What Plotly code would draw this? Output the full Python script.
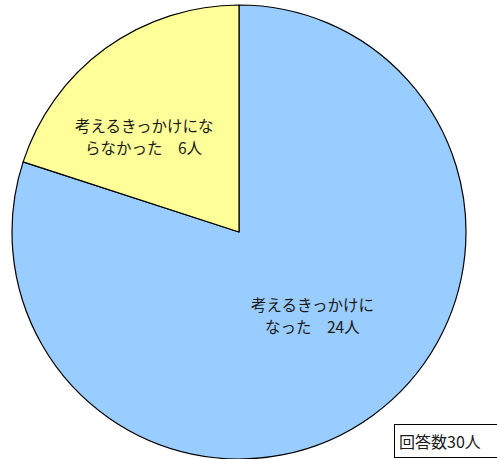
import plotly.graph_objects as go

categories = ["考えるきっかけに<br>なった", "考えるきっかけにな<br>らなかった"]
values = [24, 6]
colors = ["#99CCFF", "#FFFF99"]
total_label = "回答数"
unit = "人"

W, H = 497, 459

fig = go.Figure(go.Pie(
    labels=categories,
    values=values,
    sort=False,
    direction="clockwise",
    rotation=0,
    marker=dict(colors=colors, line=dict(color="#000000", width=1.2)),
    textinfo="none",
    hoverinfo="label+value",
    domain=dict(x=[11 / W, 467 / W], y=[0.0, 1 - 5 / H]),
    showlegend=False,
))

font = dict(family="Noto Sans CJK JP, sans-serif", size=15.5, color="#1a1a1a")
label_pos = [(312, 315), (144, 136)]
line_gap = 22
annotations = []
for cat, val, (px, py) in zip(categories, values, label_pos):
    lines = f"{cat}　{val}{unit}".split("<br>")
    n = len(lines)
    for i, ln in enumerate(lines):
        ly = py + (i - (n - 1) / 2) * line_gap
        annotations.append(dict(
            x=px / W, y=1 - ly / H, xref="paper", yref="paper", showarrow=False,
            text=ln, font=font, align="center",
            xanchor="center", yanchor="middle",
        ))
annotations.append(dict(
    x=394 / W, y=1 - 440.5 / H, xref="paper", yref="paper", showarrow=False,
    text=f"{total_label}{sum(values)}{unit}", font=dict(font, size=16),
    width=110, align="left",
    bordercolor="#000000", borderwidth=1, borderpad=4, bgcolor="#ffffff",
    xanchor="left", yanchor="middle",
))

fig.update_layout(
    width=W, height=H,
    margin=dict(l=0, r=0, t=0, b=0),
    paper_bgcolor="#ffffff",
    plot_bgcolor="#ffffff",
    annotations=annotations,
)

fig.write_html(
    "out.html",
    config={"displayModeBar": False},
    post_script="document.body.style.margin='0';document.body.style.overflow='hidden';",
)
